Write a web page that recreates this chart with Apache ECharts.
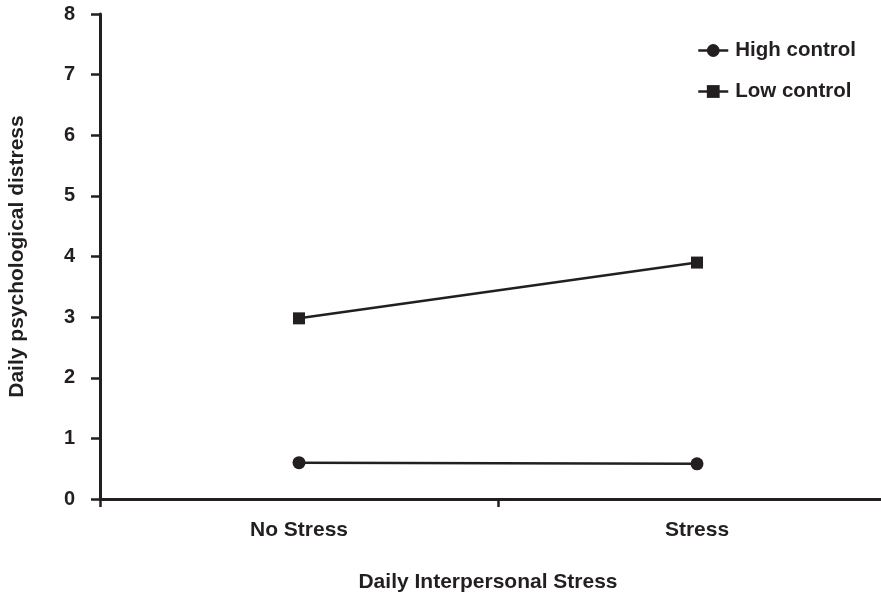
<!DOCTYPE html>
<html>
<head>
<meta charset="utf-8">
<script src="https://cdn.jsdelivr.net/npm/echarts@6/dist/echarts.min.js"></script>
<style>
  html, body { margin: 0; padding: 0; background: #fff; }
  #chart { width: 881px; height: 594px; }
</style>
</head>
<body>
<div id="chart"></div>
<script>
// 数据
const categories = ['No Stress', 'Stress']
const highControl = [0.6, 0.58]
const lowControl = [2.98, 3.9]
const yTicks = [0, 1, 2, 3, 4, 5, 6, 7, 8]

const ink = '#231f20'
const font = 'Liberation Sans, Arial, sans-serif'

const chart = echarts.init(document.getElementById('chart'))

const option = {
  animation: false,
  backgroundColor: '#fff',
  textStyle: { fontFamily: font, color: ink },
  legend: {
    orient: 'vertical',
    left: 697,
    top: 40,
    padding: 0,
    itemGap: 20,
    itemWidth: 30,
    itemHeight: 16,
    lineStyle: { width: 2.5 },
    textStyle: { fontFamily: font, fontSize: 20.5, fontWeight: 'bold', color: ink, padding: [0, 0, 0, 2] },
    data: ['High control', 'Low control']
  },
  grid: {
    left: 100,
    top: 14,
    width: 796,
    bottom: 95,
    containLabel: false,
    outerBoundsMode: 'none'
  },
  xAxis: {
    type: 'category',
    data: categories,
    boundaryGap: true,
    name: 'Daily Interpersonal Stress',
    nameLocation: 'middle',
    nameGap: 73,
    nameTextStyle: { fontFamily: font, fontSize: 21, fontWeight: 'bold', color: ink, padding: [0, 20, 0, 0] },
    axisLine: { lineStyle: { color: ink, width: 3 } },
    axisTick: { show: true, length: 8, inside: false, lineStyle: { color: ink, width: 2.5 } },
    axisLabel: { fontFamily: font, fontSize: 21, fontWeight: 'bold', color: ink, margin: 21 },
    splitLine: { show: false }
  },
  yAxis: {
    type: 'value',
    min: yTicks[0],
    max: yTicks[yTicks.length - 1],
    interval: 1,
    name: 'Daily psychological distress',
    nameLocation: 'middle',
    nameGap: 72,
    nameRotate: 90,
    nameTextStyle: { fontFamily: font, fontSize: 21, fontWeight: 'bold', color: ink },
    axisLine: { show: true, lineStyle: { color: ink, width: 3 } },
    axisTick: { show: true, length: 9, lineStyle: { color: ink, width: 2.5 } },
    axisLabel: { fontFamily: font, fontSize: 20, fontWeight: 'bold', color: ink, margin: 25 },
    splitLine: { show: false }
  },
  series: [
    {
      name: 'High control',
      type: 'line',
      data: highControl,
      symbol: 'circle',
      symbolSize: 13,
      lineStyle: { color: ink, width: 2.5 },
      itemStyle: { color: ink }
    },
    {
      name: 'Low control',
      type: 'line',
      data: lowControl,
      symbol: 'rect',
      symbolSize: 12,
      lineStyle: { color: ink, width: 2.5 },
      itemStyle: { color: ink }
    }
  ]
}

chart.setOption(option)
</script>
</body>
</html>
